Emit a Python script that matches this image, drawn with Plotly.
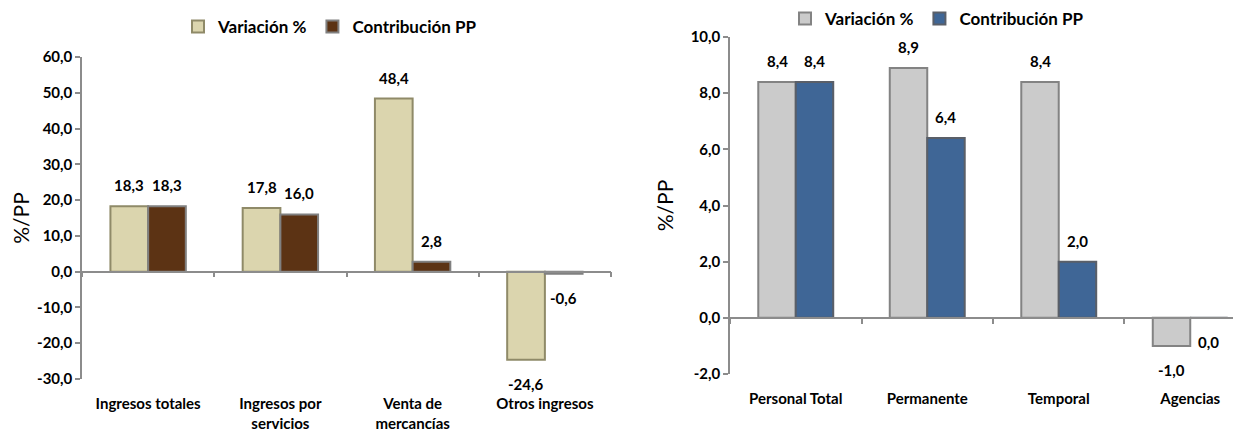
import plotly.graph_objects as go

# the page body adds an 8px margin, so the figure is drawn 8px smaller and offset
OFF = 8
W, H = 1241 - OFF, 432 - OFF

# Ingresos (left panel)
ingresos_cats = ["Ingresos totales", "Ingresos por<br>servicios", "Venta de<br>mercancías", "Otros ingresos"]
ingresos_var = [18.3, 17.8, 48.4, -24.6]
ingresos_pp = [18.3, 16.0, 2.8, -0.6]
ingresos_ticks = [-30, -20, -10, 0, 10, 20, 30, 40, 50, 60]

# Personal ocupado (right panel)
personal_cats = ["Personal Total", "Permanente", "Temporal", "Agencias"]
personal_var = [8.4, 8.9, 8.4, -1.0]
personal_pp = [8.4, 6.4, 2.0, 0.0]
personal_ticks = [-2, 0, 2, 4, 6, 8, 10]

series_names = ["Variación %", "Contribución PP"]

BARGAP = 0.43
FONT = "Lato, Carlito, DejaVu Sans Condensed, sans-serif"
AXIS_GREY = "#8c8c8c"


def px_x(v):
    return (v - OFF) / W


def px_y(v):
    return 1 - (v - OFF) / H


def fmt(v):
    return f"{v:.1f}".replace(".", ",")


# plot areas in screen pixels
L_DOM_X = [px_x(82), px_x(611)]
L_DOM_Y = [px_y(379), px_y(57)]
L_RANGE = [-30, 60]
R_DOM_X = [px_x(730), 1.0]
R_DOM_Y = [px_y(374), px_y(37)]
R_RANGE = [-2, 10]
R_XRANGE = [-0.5, 3.386]


def zero_pos(dom, rng):
    return dom[0] + (0 - rng[0]) / (rng[1] - rng[0]) * (dom[1] - dom[0])


fig = go.Figure()

left_colors = [("#dbd5ae", "#8f8a68"), ("#5c3314", "#808080")]
right_colors = [("#cbcbcb", "#838383"), ("#3f6696", "#5a5f68")]

for name, vals, (fc, lc) in zip(series_names, [ingresos_var, ingresos_pp], left_colors):
    fig.add_trace(go.Bar(
        x=ingresos_cats, y=vals, name=name, xaxis="x", yaxis="y", legend="legend",
        marker=dict(color=fc, line=dict(color=lc, width=2)), hoverinfo="x+y",
    ))
for name, vals, (fc, lc) in zip(series_names, [personal_var, personal_pp], right_colors):
    fig.add_trace(go.Bar(
        x=personal_cats, y=vals, name=name, xaxis="x2", yaxis="y2", legend="legend2",
        marker=dict(color=fc, line=dict(color=lc, width=2)), hoverinfo="x+y",
    ))

# invisible helpers so the zero-line axes get their categories
fig.add_trace(go.Scatter(x=ingresos_cats, y=ingresos_var, xaxis="x3", yaxis="y", mode="markers",
                         marker=dict(opacity=0), showlegend=False, hoverinfo="skip"))
fig.add_trace(go.Scatter(x=personal_cats, y=personal_var, xaxis="x4", yaxis="y2", mode="markers",
                         marker=dict(opacity=0), showlegend=False, hoverinfo="skip"))

annotations = []


def value_labels(vals, xref, yref, side):
    off = (1 - BARGAP) / 4 * side
    for i, v in enumerate(vals):
        annotations.append(dict(
            x=i + off, y=v, xref=xref, yref=yref, text=fmt(v), showarrow=False,
            yshift=21 if v > 0 else -24,
            font=dict(family=FONT, size=15, color="black", weight="bold"),
        ))


value_labels(ingresos_var, "x", "y", -1)
value_labels(ingresos_pp, "x", "y", 1)
value_labels(personal_var, "x2", "y2", -1)
value_labels(personal_pp, "x2", "y2", 1)

tickfont = dict(family=FONT, size=15, color="black", weight="bold")
yaxis_common = dict(
    showline=True, linecolor=AXIS_GREY, linewidth=1.5, ticks="outside", ticklen=5,
    tickcolor=AXIS_GREY, tickwidth=1.5, showgrid=False, zeroline=False, automargin=False,
    tickmode="array", tickfont=tickfont,
    title=dict(text="%/PP", font=dict(family="Lato, Carlito, sans-serif", size=21, color="black")),
)
xaxis_labels = dict(type="category", showline=False, ticks="", showgrid=False, zeroline=False,
                    tickfont=tickfont, ticklabelstandoff=14, automargin=False)
xaxis_zero = dict(type="category", showline=True, linecolor=AXIS_GREY, linewidth=1.5, ticks="outside",
                  tickson="boundaries", ticklen=5, tickcolor=AXIS_GREY, tickwidth=1.5,
                  showticklabels=False, showgrid=False, zeroline=False, anchor="free", automargin=False)

legend_common = dict(orientation="h", xanchor="center", yanchor="middle", borderwidth=0,
                     font=dict(family=FONT, size=17, color="black", weight="bold"),
                     bgcolor="rgba(0,0,0,0)")

fig.update_layout(
    width=W, height=H, margin=dict(l=0, r=0, t=0, b=0, autoexpand=False),
    paper_bgcolor="white", plot_bgcolor="white",
    separators=",.", barmode="group", bargap=BARGAP, bargroupgap=0,
    xaxis=dict(domain=L_DOM_X, anchor="y", range=[-0.5, 3.5], **xaxis_labels),
    yaxis=dict(domain=L_DOM_Y, anchor="x", range=L_RANGE, tickvals=ingresos_ticks,
               ticktext=[fmt(t) for t in ingresos_ticks], title_standoff=5, **yaxis_common),
    xaxis3=dict(overlaying="x", range=[-0.5, 3.5], position=zero_pos(L_DOM_Y, L_RANGE), **xaxis_zero),
    xaxis2=dict(domain=R_DOM_X, anchor="y2", range=R_XRANGE, **xaxis_labels),
    yaxis2=dict(domain=R_DOM_Y, anchor="x2", range=R_RANGE, tickvals=personal_ticks,
                ticktext=[fmt(t) for t in personal_ticks], title_standoff=11, **yaxis_common),
    xaxis4=dict(overlaying="x2", range=R_XRANGE, position=zero_pos(R_DOM_Y, R_RANGE), **xaxis_zero),
    legend=dict(x=px_x(330), y=px_y(27), **legend_common),
    legend2=dict(x=px_x(937), y=px_y(19), **legend_common),
    annotations=annotations,
    showlegend=True,
)

fig.write_html("out.html")
